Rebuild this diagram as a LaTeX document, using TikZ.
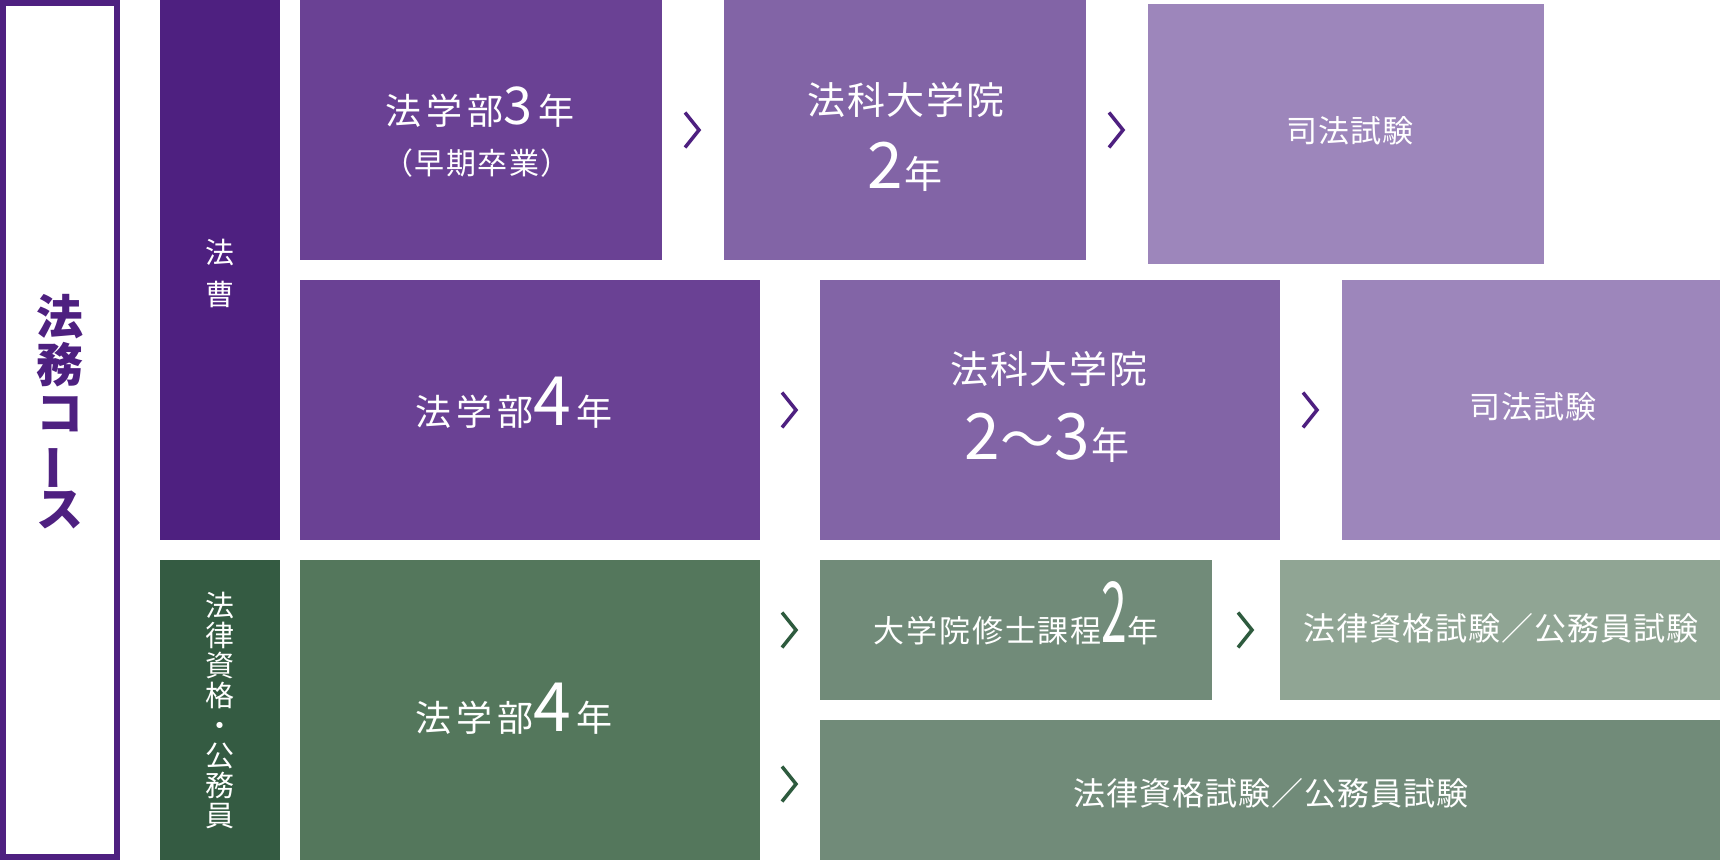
\documentclass[tikz,border=0pt]{standalone}
\usepackage{fontspec}
\usepackage{graphicx}
\setmainfont{Noto Sans CJK JP}
\usetikzlibrary{calc}
\definecolor{dpurple}{HTML}{4E2080}
\definecolor{purA}{HTML}{6A4194}
\definecolor{purB}{HTML}{8264A6}
\definecolor{purC}{HTML}{9D86BB}
\definecolor{dgreen}{HTML}{345B42}
\definecolor{grA}{HTML}{54775C}
\definecolor{grB}{HTML}{718B79}
\definecolor{grC}{HTML}{90A594}
\definecolor{chevg}{HTML}{2E5B3E}
\newcommand\setfs[2]{\fontsize{#1}{#2}\selectfont}
\newcommand\bigdig[2]{{\fontsize{#1}{#1}\selectfont\addfontfeature{LetterSpace=0}#2}}
\newcommand\ftA{\setfs{36}{40}\addfontfeature{LetterSpace=14}}
\newcommand\ftB{\setfs{38}{40}\addfontfeature{LetterSpace=5}}
\newcommand\ftC{\setfs{31}{36}\addfontfeature{LetterSpace=4}}
\newcommand\ftD{\setfs{32}{36}\addfontfeature{LetterSpace=3}}
\newcommand\ftE{\setfs{31}{36}\addfontfeature{LetterSpace=6}}
\tikzset{
  blk/.style={rectangle, inner sep=0pt, outer sep=0pt, anchor=north west},
  txt/.style={text=white, inner sep=0pt, anchor=base, align=center},
  vtxt/.style={text=white, inner sep=0pt, align=center},
  chevp/.style={draw=dpurple, line width=3.5pt, line cap=butt},
  chevgr/.style={draw=chevg, line width=3.5pt, line cap=butt},
}
\begin{document}
\begin{tikzpicture}[x=1pt,y=-1pt]
\useasboundingbox (0,0) rectangle (1720,860);
% left outline
\node[blk, draw=dpurple, line width=6pt, minimum width=114pt, minimum height=854pt] (outline) at (3,3) {};
\node[inner sep=0pt, align=center, text=dpurple, font=\setfs{47}{48}\bfseries] (course) at (60,412)
  {法\\務\\コ\\\rotatebox[origin=c]{90}{ー}\\ス};
% category columns
\node[blk, fill=dpurple, minimum width=120pt, minimum height=540pt] (lab1) at (160,0) {};
\node[vtxt, font=\setfs{29}{42}] (lab1t) at (220,273) {法\\曹};
\node[blk, fill=dgreen, minimum width=120pt, minimum height=300pt] (lab2) at (160,560) {};
\node[vtxt, font=\setfs{29}{30}] (lab2t) at (220,710) {法\\律\\資\\格\\・\\公\\務\\員};
% row 1
\node[blk, fill=purA, minimum width=362pt, minimum height=260pt] (r1a) at (300,0) {};
\node[blk, fill=purB, minimum width=362pt, minimum height=260pt] (r1b) at (724,0) {};
\node[blk, fill=purC, minimum width=396pt, minimum height=260pt] (r1c) at (1148,4) {};
\node[txt] (r1at1) at (480,124) {\ftA 法学部\bigdig{52}{3}\,年};
\node[txt] (r1at2) at (477,174) {\setfs{30}{32}\addfontfeature{LetterSpace=5}（早期卒業）};
\node[txt] (r1bt1) at (906,114) {\ftB 法科大学院};
\node[txt] (r1bt2) at (905,188) {\bigdig{64}{2}\,{\setfs{38}{40}年}};
\node[txt] (r1ct) at (1350,142) {\ftC 司法試験};
% row 2
\node[blk, fill=purA, minimum width=460pt, minimum height=260pt] (r2a) at (300,280) {};
\node[blk, fill=purB, minimum width=460pt, minimum height=260pt] (r2b) at (820,280) {};
\node[blk, fill=purC, minimum width=378pt, minimum height=260pt] (r2c) at (1342,280) {};
\node[txt] (r2at) at (514,425) {\ftA 法学部\bigdig{68}{4}\,年};
\node[txt] (r2bt1) at (1049,383) {\ftB 法科大学院};
\node[txt] (r2bt2) at (1047,459) {\bigdig{64}{2}{\setfs{54}{56}〜}\bigdig{64}{3}\,{\setfs{38}{40}年}};
\node[txt] (r2ct) at (1533,418) {\ftC 司法試験};
% row 3
\node[blk, fill=grA, minimum width=460pt, minimum height=300pt] (r3a) at (300,560) {};
\node[blk, fill=grB, minimum width=392pt, minimum height=140pt] (r3b) at (820,560) {};
\node[blk, fill=grC, minimum width=440pt, minimum height=140pt] (r3c) at (1280,560) {};
\node[blk, fill=grB, minimum width=900pt, minimum height=140pt] (r3d) at (820,720) {};
\node[txt] (r3at) at (514,731) {\ftA 法学部\bigdig{68}{4}\,年};
\node[txt] (r3bt) at (1016,642) {\ftE 大学院修士課程\scalebox{0.55}[1]{\bigdig{84}{2}}年};
\node[txt] (r3ct) at (1501,640) {\ftD 法律資格試験／公務員試験};
\node[txt] (r3dt) at (1271,805) {\ftD 法律資格試験／公務員試験};
% chevrons
\coordinate (c1) at ($(r1a.east)!0.5!(r1b.west)$);
\coordinate (c2) at ($(r1b.east)!0.5!(r1b.east -| r1c.west)$);
\coordinate (c3) at ($(r2a.east)!0.5!(r2b.west)$);
\coordinate (c4) at ($(r2b.east)!0.5!(r2c.west)$);
\coordinate (c5) at ($(r3a.east |- r3b.west)!0.5!(r3b.west)$);
\coordinate (c6) at ($(r3b.east)!0.5!(r3c.west)$);
\coordinate (c7) at ($(r3a.east |- r3d.west)!0.5!(r3d.west) + (0,-6)$);
\foreach \c in {c1,c2,c3,c4}{
  \draw[chevp] ($(\c)+(-8,-17.5)$) -- ($(\c)+(6,0)$) -- ($(\c)+(-8,17.5)$);
}
\foreach \c in {c5,c6,c7}{
  \draw[chevgr] ($(\c)+(-8,-17.5)$) -- ($(\c)+(6,0)$) -- ($(\c)+(-8,17.5)$);
}
\end{tikzpicture}
\end{document}
